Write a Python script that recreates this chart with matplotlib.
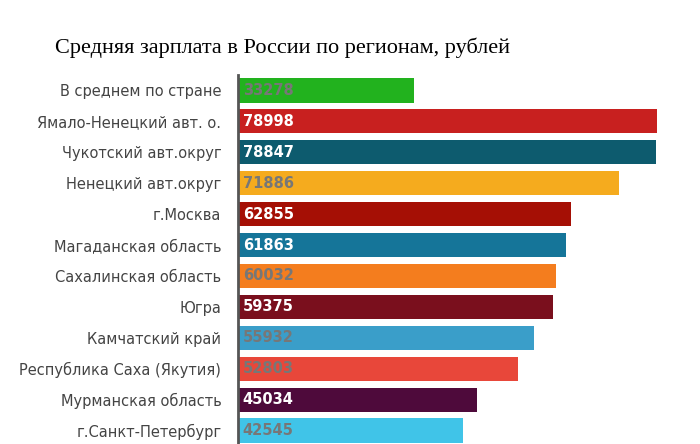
import matplotlib
matplotlib.use("Agg")
import matplotlib.pyplot as plt

regions = ["В среднем по стране", "Ямало-Ненецкий авт. о.", "Чукотский авт.округ",
           "Ненецкий авт.округ", "г.Москва", "Магаданская область", "Сахалинская область",
           "Югра", "Камчатский край", "Республика Саха (Якутия)", "Мурманская область",
           "г.Санкт-Петербург"]
values = [33278, 78998, 78847, 71886, 62855, 61863, 60032, 59375, 55932, 52803, 45034, 42545]
colors = ["#22b21e", "#c8201f", "#0d5b6e", "#f5ab1e", "#a50f05", "#157599", "#f47d1e",
          "#7a0f1d", "#3a9ec9", "#e8473a", "#4e0a3b", "#40c4e8"]
text_colors = ["#777777", "white", "white", "#777777", "white", "white", "#777777",
               "white", "#777777", "#777777", "white", "#777777"]

fig = plt.figure(figsize=(7, 4.44), dpi=100)
ax = fig.add_axes([238/700, -2/444, 1-238/700, 371/444])
y = list(range(len(values)))
ax.barh(y, values, height=0.78, color=colors)
ax.set_xlim(0, 87200)
ax.set_ylim(len(values)-0.5, -0.5)
for i, (v, tc) in enumerate(zip(values, text_colors)):
    ax.text(900, i, str(v), va="center", ha="left", color=tc, fontsize=10.5, fontweight="bold")
ax.set_yticks(y)
ax.set_yticklabels(regions, fontsize=10.5, color="#444444")
ax.tick_params(axis="y", length=0, pad=12)
ax.set_xticks([])
for s in ["top", "right", "bottom"]:
    ax.spines[s].set_visible(False)
ax.spines["left"].set_color("#555555")
ax.spines["left"].set_linewidth(2)
fig.text(55/700, 1-48/444, "Средняя зарплата в России по регионам, рублей",
         fontsize=16, family="Liberation Serif", va="center", ha="left")
fig.savefig("out.png")
